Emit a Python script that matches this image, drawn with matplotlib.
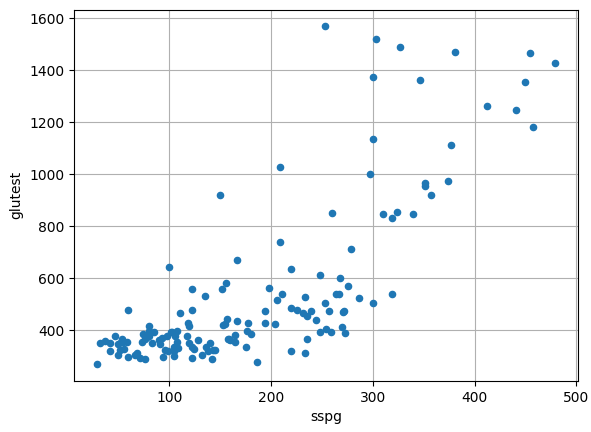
import matplotlib
matplotlib.use("Agg")
import matplotlib.pyplot as plt
import pandas as pd

# sspg vs glutest (Reaven & Miller diabetes data)
sspg = [55, 76, 105, 108, 143, 165, 119, 105, 98, 94, 53, 66, 142, 93, 68, 102, 76, 37, 60, 50,
        47, 50, 91, 124, 74, 235, 158, 140, 145, 99, 90, 105, 32, 165, 78, 80, 54, 175, 80, 186,
        117, 160, 71, 29, 42, 56, 122, 73, 122, 128, 233, 132, 138, 83, 109, 96, 52, 42, 122, 176,
        118, 244, 194, 136, 257, 167, 153, 248, 273, 80, 270, 180, 85, 106, 254, 119,
        177, 159, 103, 59, 108, 259, 204, 220, 111, 122, 253, 211, 271, 220, 276, 233, 264, 231,
        268, 60, 272, 235, 206, 300, 286, 226, 239,
        267, 194, 157, 155, 135, 156, 152, 198, 100, 167, 220, 248, 209, 279, 319,
        150, 209, 260, 310, 324, 319, 339, 357, 351, 351, 374, 297, 377, 300, 457, 441, 412,
        449, 346, 300, 479, 454, 381, 327, 303, 253]
glutest = [356, 289, 319, 356, 323, 381, 350, 301, 379, 296, 353, 306, 290, 371, 312, 393, 364, 359, 296, 345,
           378, 304, 347, 327, 386, 365, 365, 352, 325, 321, 360, 336, 352, 353, 373, 376, 367, 335, 396, 277,
           378, 360, 291, 269, 318, 328, 334, 356, 291, 360, 313, 306, 319, 349, 332, 323, 323, 351, 478, 398,
           426, 439, 429, 333, 472, 436, 418, 391, 390, 416, 413, 385, 393, 376, 403, 414,
           426, 364, 391, 356, 398, 393, 425, 318, 465, 558, 503, 540, 469, 486, 568, 527, 537, 466,
           599, 477, 472, 456, 517, 503, 522, 476, 472,
           540, 472, 444, 422, 530, 580, 559, 563, 643, 670, 635, 612, 740, 713, 538,
           921, 1026, 852, 848, 856, 832, 848, 918, 965, 955, 972, 999, 1111, 1134, 1181, 1247, 1262,
           1355, 1363, 1374, 1428, 1467, 1471, 1487, 1521, 1568]

df = pd.DataFrame({"sspg": sspg, "glutest": glutest})

fig = plt.figure(figsize=(5.91, 4.32), dpi=100)
ax = fig.add_axes([0.1252, 0.118, 0.978 - 0.1252, 0.978 - 0.118])
ax.set_axisbelow(True)
ax.grid(True)
ax.scatter(df["sspg"], df["glutest"], s=20, color="#1f77b4")
ax.set_xlabel("sspg")
ax.set_ylabel("glutest")

fig.savefig("out.png", dpi=100)
